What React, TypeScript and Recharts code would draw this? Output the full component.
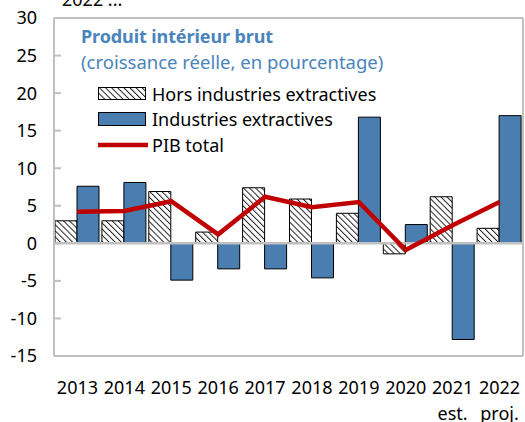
import React from 'react';
import {
  ComposedChart,
  Bar,
  Line,
  XAxis,
  YAxis,
  ReferenceLine,
  Legend,
} from 'recharts';

const ANNEES = ['2013', '2014', '2015', '2016', '2017', '2018', '2019', '2020', '2021', '2022'];
const SOUS_LIBELLES = ['', '', '', '', '', '', '', '', 'est.', 'proj.'];
const HORS_EXTRACTIVES = [3.0, 3.0, 6.9, 1.5, 7.4, 5.9, 4.0, -1.4, 6.2, 2.0];
const EXTRACTIVES = [7.6, 8.1, -4.9, -3.4, -3.4, -4.6, 16.8, 2.5, -12.8, 17.0];
const PIB_TOTAL = [4.2, 4.3, 5.6, 1.2, 6.2, 4.8, 5.5, -0.9, 2.4, 5.5];
const Y_TICKS = [-15, -10, -5, 0, 5, 10, 15, 20, 25, 30];

const data = ANNEES.map((annee, i) => ({
  annee,
  sous: SOUS_LIBELLES[i],
  hors: HORS_EXTRACTIVES[i],
  extr: EXTRACTIVES[i],
  pib: PIB_TOTAL[i],
}));

const BLEU = '#4a7eb0';
const ROUGE = '#c00000';
const GRIS = '#c0c0c0';
const POLICE = '"Noto Sans", sans-serif';

function TickY({ y, payload }: any) {
  return (
    <g>
      <line x1={54} x2={61} y1={y} y2={y} stroke={GRIS} strokeWidth={2} />
      <text x={37} y={y} dy="0.36em" textAnchor="end" fontSize={18} fill="#000" fontFamily={POLICE}>
        {payload.value}
      </text>
    </g>
  );
}

function TickX({ x, payload, index }: any) {
  const sous = data[index]?.sous;
  return (
    <g>
      <text x={x} y={394} textAnchor="middle" fontSize={18} fill="#000" fontFamily={POLICE}>
        {payload.value}
      </text>
      {sous ? (
        <text x={x} y={419.5} textAnchor="middle" fontSize={18} fill="#000" fontFamily={POLICE}>
          {sous}
        </text>
      ) : null}
    </g>
  );
}

function Hachure({ id }: { id: string }) {
  return (
    <pattern id={id} patternUnits="userSpaceOnUse" width={4.3} height={4.3} patternTransform="rotate(-45)">
      <rect width={4.3} height={4.3} fill="#fff" />
      <line x1={0} y1={0} x2={0} y2={4.3} stroke="#222" strokeWidth={2} />
    </pattern>
  );
}

function Legende() {
  const ligne: React.CSSProperties = { display: 'flex', alignItems: 'center', height: 25.5 };
  const texte: React.CSSProperties = { marginLeft: 6, fontSize: 18, color: '#000', whiteSpace: 'nowrap' };
  return (
    <div style={{ fontFamily: POLICE }}>
      <div style={ligne}>
        <svg width={48} height={13}>
          <defs>
            <Hachure id="hachure-leg" />
          </defs>
          <rect x={0.5} y={0.5} width={47} height={12} fill="url(#hachure-leg)" stroke="#000" />
        </svg>
        <span style={texte}>Hors industries extractives</span>
      </div>
      <div style={ligne}>
        <svg width={48} height={14}>
          <rect x={0.5} y={0.5} width={47} height={13} fill={BLEU} stroke="#000" />
        </svg>
        <span style={texte}>Industries extractives</span>
      </div>
      <div style={ligne}>
        <svg width={50} height={6}>
          <line x1={0} x2={50} y1={3} y2={3} stroke={ROUGE} strokeWidth={4.5} />
        </svg>
        <span style={{ ...texte, marginLeft: 4 }}>PIB total</span>
      </div>
    </div>
  );
}

export default function App() {
  return (
    <div style={{ position: 'fixed', left: 0, top: 0, width: 525, height: 422, background: '#fff', overflow: 'hidden', fontFamily: POLICE }}>
      <div style={{ position: 'absolute', left: 62, top: -10, fontSize: 18, lineHeight: '18px', color: '#000' }}>2022 ...</div>
      <ComposedChart
        width={525}
        height={422}
        data={data}
        margin={{ top: 18, right: 1, bottom: 0, left: 0 }}
        barGap={0}
        barSize={22}
      >
        <defs>
          <Hachure id="hachure" />
        </defs>
        <XAxis
          dataKey="annee"
          height={66}
          interval={0}
          tickLine={false}
          axisLine={{ stroke: GRIS, strokeWidth: 2 }}
          tick={<TickX />}
        />
        <YAxis
          width={54}
          domain={[-15, 30]}
          ticks={Y_TICKS}
          interval={0}
          tickLine={false}
          axisLine={{ stroke: GRIS, strokeWidth: 2 }}
          tick={<TickY />}
        />
        <YAxis
          yAxisId="droite"
          orientation="right"
          width={1}
          domain={[-15, 30]}
          tick={false}
          tickLine={false}
          axisLine={{ stroke: GRIS, strokeWidth: 2 }}
        />
        <ReferenceLine y={30} stroke={GRIS} strokeWidth={2} />
        <Bar dataKey="hors" name="Hors industries extractives" fill="url(#hachure)" stroke="#000" strokeWidth={1} isAnimationActive={false} />
        <Bar dataKey="extr" name="Industries extractives" fill={BLEU} stroke="#000" strokeWidth={1} isAnimationActive={false} />
        <ReferenceLine y={0} stroke={GRIS} strokeWidth={2.5} />
        <Line
          dataKey="pib"
          name="PIB total"
          type="linear"
          stroke={ROUGE}
          strokeWidth={4.5}
          dot={false}
          activeDot={false}
          isAnimationActive={false}
        />
        <Legend
          content={<Legende />}
          layout="horizontal"
          verticalAlign="middle"
          align="center"
          wrapperStyle={{ position: 'absolute', top: 81, left: 98, width: 320 }}
        />
      </ComposedChart>
      <div style={{ position: 'absolute', left: 81, top: 24, color: '#4a84bb', fontSize: 18, lineHeight: '25px', whiteSpace: 'nowrap' }}>
        <div style={{ fontWeight: 700, letterSpacing: -0.1 }}>Produit intérieur brut</div>
        <div style={{ fontSize: 18.5 }}>(croissance réelle, en pourcentage)</div>
      </div>
    </div>
  );
}
